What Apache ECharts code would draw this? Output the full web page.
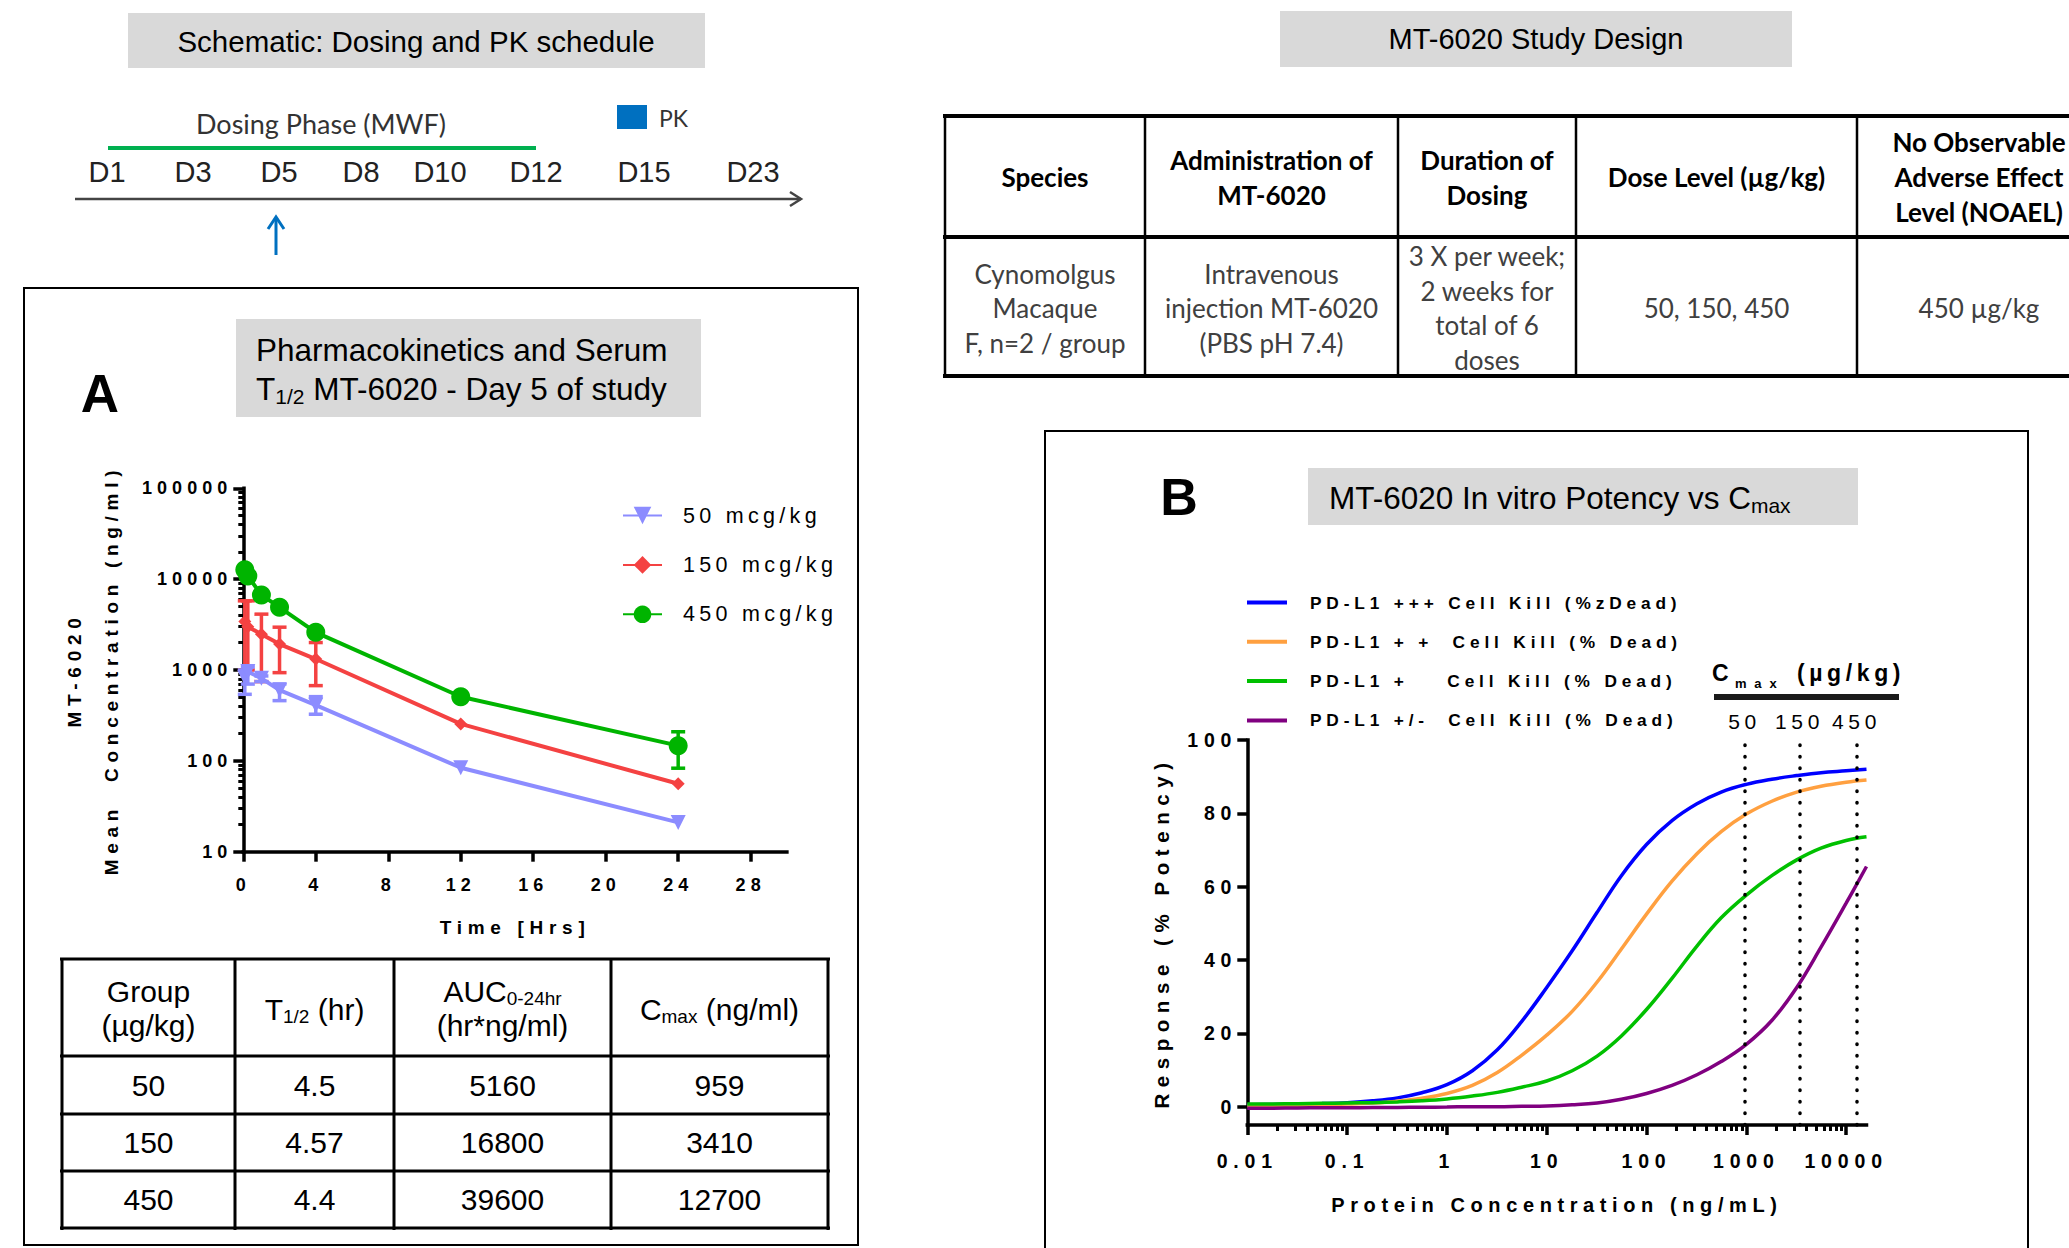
<!DOCTYPE html>
<html>
<head>
<meta charset="utf-8">
<title>MT-6020 PK and in vitro potency</title>
<script src="https://cdn.jsdelivr.net/npm/echarts@6/dist/echarts.min.js"></script>
<style>
  html, body { margin: 0; padding: 0; background: #fff; }
  #main { width: 2069px; height: 1248px; }
</style>
</head>
<body>
<div id="main"></div>
<script>
// ---- panel A: mean serum concentration, day 5 ----
const pkHours = [0.083, 0.25, 1, 2, 4, 12, 24];
const pk50 = [820, 960, 810, 600, 410, 84, 21];
const pk50Low = [540, 700, 745, 460, 326, null, null];
const pk50High = [1000, 1080, 860, 703, 509, null, null];
const pk150 = [3410, 3000, 2470, 1930, 1320, 255, 56];
const pk150Low = [1000, 1000, 745, 935, 673, null, null];
const pk150High = [5770, 5770, 4120, 2960, 2005, null, null];
const pk450 = [12700, 10800, 6700, 4900, 2600, 508, 147];
const pk450Low = [null, null, null, null, null, null, 83];
const pk450High = [null, null, null, null, null, null, 209];
const pkDoseNames = ['50 mcg/kg', '150 mcg/kg', '450 mcg/kg'];
const pkTicksX = [0, 4, 8, 12, 16, 20, 24, 28];
const pkTicksY = [10, 100, 1000, 10000, 100000];

// PK summary table
const tblGroup = ['50', '150', '450'];
const tblHalfLife = ['4.5', '4.57', '4.4'];
const tblAuc = ['5160', '16800', '39600'];
const tblCmax = [959, 3410, 12700];

// ---- panel B: in vitro potency vs Cmax ----
const potConc = [0.01, 0.018, 0.032, 0.056, 0.1, 0.18, 0.32, 0.56, 1, 1.8, 3.2, 5.6, 10, 18, 32, 56,
  100, 180, 320, 560, 1000, 1800, 3200, 5600, 10000, 16000];
const killHigh = [0.5, 0.6, 0.7, 0.85, 1.1, 1.6, 2.4, 3.8, 6.0, 9.8, 15.5, 23.2, 32.5, 42.5, 53, 63,
  71.5, 78, 82.6, 85.8, 87.9, 89.3, 90.3, 91.1, 91.6, 92.0];
const killMid = [0.2, 0.3, 0.4, 0.5, 0.7, 1.0, 1.5, 2.3, 3.6, 5.8, 9.3, 14, 19.5, 26, 34, 43,
  52.5, 61.5, 69, 75, 79.8, 83.3, 85.8, 87.4, 88.5, 89.1];
const killLow = [0.7, 0.75, 0.8, 0.9, 1.0, 1.1, 1.3, 1.6, 2.1, 2.9, 3.9, 5.3, 7.0, 9.8, 13.8, 19.3,
  26.5, 35, 43.8, 51.5, 57.7, 63, 67.3, 70.5, 72.6, 73.6];
const killNeg = [-0.4, -0.4, -0.35, -0.3, -0.3, -0.25, -0.2, -0.15, -0.1, 0, 0, 0.1, 0.2, 0.5, 1.0, 2.0,
  3.6, 5.8, 8.7, 12.3, 17, 23.5, 32.5, 43.5, 55.5, 65.5];
const killNames = [
  'PD-L1 +++ Cell Kill (%zDead)',
  'PD-L1 + +  Cell Kill (% Dead)',
  'PD-L1 +    Cell Kill (% Dead)',
  'PD-L1 +/-  Cell Kill (% Dead)'
];
const doseLabels = ['50', '150', '450'];
const potTicksX = [0.01, 0.1, 1, 10, 100, 1000, 10000];
const potTickLabels = ['0.01', '0.1', '1', '10', '100', '1000', '10000'];
const potTicksY = [0, 20, 40, 60, 80, 100];

const ARIAL = "'Liberation Sans', Arial, Helvetica, sans-serif";
const CALI = "Lato, 'Open Sans', 'Noto Sans', sans-serif";
// GraphPad style text is letter spaced; the "lsNN" family tag is read after rendering
function gp(ls) { return 'ls' + ls + ", 'Liberation Sans', Arial, sans-serif"; }

function minorTicks(fromExp, toExp, limit) {
  const out = [];
  for (let e = fromExp; e < toExp; e++) {
    for (let m = 2; m <= 9; m++) {
      const v = m * Math.pow(10, e);
      if (v <= limit) out.push(v);
    }
  }
  return out;
}

function txt(x, y, text, style) {
  return { type: 'text', x: x, y: y, silent: true,
    style: Object.assign({ text: text, fill: '#000', align: 'center', verticalAlign: 'middle',
      fontFamily: ARIAL, fontSize: 29 }, style) };
}
function seg(x1, y1, x2, y2, stroke, width) {
  return { type: 'line', silent: true, shape: { x1: x1, y1: y1, x2: x2, y2: y2 },
    style: { stroke: stroke, lineWidth: width } };
}
function box(x, y, w, h, style) {
  return { type: 'rect', silent: true, shape: { x: x, y: y, width: w, height: h }, style: style };
}
function subRich(size, subSize, drop) {
  return {
    a: { fontSize: size, fontFamily: ARIAL, fill: '#000', lineHeight: size + 4 },
    s: { fontSize: subSize, fontFamily: ARIAL, fill: '#000', lineHeight: drop, verticalAlign: 'bottom' }
  };
}

const shapes = [];

// schematic of dosing
shapes.push(box(128, 13, 577, 55, { fill: '#d9d9d9' }));
shapes.push(txt(416, 41, 'Schematic: Dosing and PK schedule', { fontSize: 29.5 }));
shapes.push(txt(321, 123, 'Dosing Phase (MWF)', { fontFamily: CALI, fontSize: 27, fill: '#333' }));
shapes.push(seg(108, 148, 536, 148, '#00b050', 4));
const dayNames = ['D1', 'D3', 'D5', 'D8', 'D10', 'D12', 'D15', 'D23'];
const dayX = [107, 193, 279, 361, 440, 536, 644, 753];
dayNames.forEach(function (d, i) { shapes.push(txt(dayX[i], 172, d, { fill: '#222' })); });
shapes.push(seg(75, 199, 801, 199, '#444', 2.5));
shapes.push({ type: 'polyline', silent: true, shape: { points: [[790, 192], [801, 199], [790, 206]] },
  style: { stroke: '#444', lineWidth: 2.5, fill: null } });
shapes.push(box(617, 105, 30, 24, { fill: '#0070c0' }));
shapes.push(txt(659, 118, 'PK', { align: 'left', fontFamily: CALI, fontSize: 23, fill: '#333' }));
shapes.push(seg(276, 255, 276, 218, '#0070c0', 3));
shapes.push({ type: 'polyline', silent: true, shape: { points: [[268, 229], [276, 217], [284, 229]] },
  style: { stroke: '#0070c0', lineWidth: 3, fill: null } });

// study design table
shapes.push(box(1280, 11, 512, 56, { fill: '#d9d9d9' }));
shapes.push(txt(1536, 39, 'MT-6020 Study Design'));
const sdCols = [945, 1145, 1398, 1576, 1857, 2105];
const sdRows = [116, 237, 376];
sdRows.forEach(function (y) { shapes.push(seg(943, y, 2110, y, '#000', 4)); });
sdCols.forEach(function (x) { shapes.push(seg(x, 116, x, 376, '#000', 2.5)); });
const sdHead = ['Species', 'Administration of\nMT-6020', 'Duration of\nDosing', 'Dose Level (µg/kg)',
  'No Observable\nAdverse Effect\nLevel (NOAEL)'];
const sdBody = ['Cynomolgus\nMacaque\nF, n=2 / group', 'Intravenous\ninjection MT-6020\n(PBS pH 7.4)',
  '3 X per week;\n2 weeks for\ntotal of 6\ndoses', '50, 150, 450', '450 µg/kg'];
sdHead.forEach(function (h, i) {
  const cx = i === 4 ? 1979 : (sdCols[i] + sdCols[i + 1]) / 2;
  shapes.push(txt(cx, 177, h, { fontFamily: CALI, fontWeight: 'bold', fontSize: 26, lineHeight: 35 }));
});
sdBody.forEach(function (b, i) {
  const cx = i === 4 ? 1979 : (sdCols[i] + sdCols[i + 1]) / 2;
  shapes.push(txt(cx, 308, b, { fontFamily: CALI, fontSize: 26, lineHeight: 34.5, fill: '#404040' }));
});

// panel A frame, title and table
shapes.push(box(24, 288, 834, 957, { fill: null, stroke: '#000', lineWidth: 2 }));
shapes.push(box(236, 319, 465, 98, { fill: '#d9d9d9' }));
shapes.push(txt(256, 350, 'Pharmacokinetics and Serum', { align: 'left', fontSize: 31.5 }));
shapes.push(txt(256, 389, '{a|T}{s|1/2}{a| MT-6020 - Day 5 of study}', { align: 'left', rich: subRich(31.5, 21, 8) }));
shapes.push(txt(100, 393, 'A', { fontWeight: 'bold', fontSize: 53 }));

const taCols = [62, 235, 394, 611, 828];
const taRows = [959, 1056, 1114, 1171, 1228];
taRows.forEach(function (y) { shapes.push(seg(60, y, 830, y, '#000', 3)); });
taCols.forEach(function (x) { shapes.push(seg(x, 958, x, 1230, '#000', 3)); });
const taMid = taCols.slice(0, 4).map(function (x, i) { return (x + taCols[i + 1]) / 2; });
shapes.push(txt(taMid[0], 1008, 'Group\n(µg/kg)', { fontSize: 30, lineHeight: 34 }));
shapes.push(txt(taMid[1], 1009, '{a|T}{s|1/2}{a| (hr)}', { rich: subRich(30, 19, 8) }));
shapes.push(txt(taMid[2], 1008, '{a|AUC}{s|0-24hr}\n{a|(hr*ng/ml)}', { rich: subRich(30, 19, 8) }));
shapes.push(txt(taMid[3], 1009, '{a|C}{s|max}{a| (ng/ml)}', { rich: subRich(30, 19, 8) }));
tblGroup.forEach(function (g, r) {
  const cy = (taRows[r + 1] + taRows[r + 2]) / 2;
  [g, tblHalfLife[r], tblAuc[r], String(tblCmax[r])].forEach(function (v, c) {
    shapes.push(txt(taMid[c], cy, v, { fontSize: 30 }));
  });
});

// panel B frame and title
shapes.push(box(1045, 431, 983, 840, { fill: null, stroke: '#000', lineWidth: 2 }));
shapes.push(box(1308, 468, 550, 57, { fill: '#d9d9d9' }));
shapes.push(txt(1329, 498, '{a|MT-6020 In vitro Potency vs C}{s|max}', { align: 'left', rich: subRich(31.5, 21, 8) }));
shapes.push(txt(1179, 497, 'B', { fontWeight: 'bold', fontSize: 52 }));
shapes.push(txt(1712, 673, 'C', { align: 'left', fontWeight: 'bold', fontSize: 23, fontFamily: gp(10) }));
shapes.push(txt(1735, 683, 'max', { align: 'left', fontWeight: 'bold', fontSize: 13, fontFamily: gp(60) }));
shapes.push(txt(1797, 673, '(µg/kg)', { align: 'left', fontWeight: 'bold', fontSize: 23, fontFamily: gp(20) }));
shapes.push(box(1714, 694, 185, 6, { fill: '#1a1a1a' }));

const tickFontA = { fontSize: 18, fontWeight: 'bold', fontFamily: gp(28), color: '#000' };
const nameFontA = { fontSize: 19, fontWeight: 'bold', fontFamily: gp(30), color: '#000', lineHeight: 20 };
const tickFontB = { fontSize: 19.5, fontWeight: 'bold', fontFamily: gp(30), color: '#000' };
const nameFontB = { fontSize: 20.5, fontWeight: 'bold', fontFamily: gp(32), color: '#000', lineHeight: 21 };
const axisLineStyle = { color: '#000', width: 3.5, cap: 'square' };

function errorBars(color) {
  return function (params, api) {
    const x = api.value(0);
    const lo = api.coord([x, api.value(1)]);
    const hi = api.coord([x, api.value(2)]);
    const st = { stroke: color, lineWidth: 3.5 };
    return { type: 'group', children: [
      { type: 'line', shape: { x1: lo[0], y1: lo[1], x2: hi[0], y2: hi[1] }, style: st },
      { type: 'line', shape: { x1: lo[0] - 7, y1: lo[1], x2: lo[0] + 7, y2: lo[1] }, style: st },
      { type: 'line', shape: { x1: hi[0] - 7, y1: hi[1], x2: hi[0] + 7, y2: hi[1] }, style: st }
    ] };
  };
}
function errData(low, high) {
  return pkHours.map(function (h, i) { return [h, low[i], high[i]]; })
    .filter(function (d) { return d[1] != null; });
}
function pkSeries(name, values, color, symbol, size, rotate) {
  return { name: name, type: 'line', xAxisIndex: 0, yAxisIndex: 0, z: 3,
    data: pkHours.map(function (h, i) { return [h, values[i]]; }),
    symbol: symbol, symbolSize: size, symbolRotate: rotate,
    itemStyle: { color: color }, lineStyle: { color: color, width: 4 } };
}
function errSeries(low, high, color) {
  return { type: 'custom', xAxisIndex: 0, yAxisIndex: 0, z: 2, renderItem: errorBars(color),
    encode: { x: 0, y: [1, 2] }, data: errData(low, high) };
}
function killSeries(name, values, color, extra) {
  return Object.assign({ name: name, type: 'line', xAxisIndex: 1, yAxisIndex: 2, z: 3,
    data: potConc.map(function (c, i) { return [c, values[i]]; }),
    symbol: 'none', smooth: 0.4,
    itemStyle: { color: color }, lineStyle: { color: color, width: 3.5 } }, extra || {});
}

const chartDom = document.getElementById('main');
const chart = echarts.init(chartDom, null, { renderer: 'svg' });

chart.setOption({
  backgroundColor: '#fff',
  animation: false,
  textStyle: { fontFamily: ARIAL },
  grid: [
    { left: 243.3, top: 488.3, width: 543.6, height: 363.4, outerBoundsMode: 'none' },
    { left: 1247.3, top: 740, width: 619.2, height: 385, outerBoundsMode: 'none' }
  ],
  xAxis: [
    { gridIndex: 0, type: 'value', min: 0, max: 30, position: 'bottom',
      axisLine: { onZero: false, lineStyle: axisLineStyle },
      axisTick: { customValues: pkTicksX, length: 10, lineStyle: { width: 3.5, color: '#000' } },
      axisLabel: Object.assign({ customValues: pkTicksX, margin: 24 }, tickFontA),
      splitLine: { show: false },
      name: 'Time [Hrs]', nameLocation: 'middle', nameGap: 66, nameTextStyle: nameFontA },
    { gridIndex: 1, type: 'log', logBase: 10, min: 0.01, max: 16000, position: 'bottom',
      axisLine: { onZero: false, lineStyle: axisLineStyle },
      axisTick: { customValues: potTicksX, length: 10, lineStyle: { width: 3.5, color: '#000' } },
      axisLabel: Object.assign({ customValues: potTicksX, margin: 26,
        formatter: function (v) {
          const i = potTicksX.findIndex(function (t) { return Math.abs(Math.log10(t / v)) < 0.01; });
          return i < 0 ? '' : potTickLabels[i];
        } }, tickFontB),
      splitLine: { show: false },
      name: 'Protein Concentration (ng/mL)', nameLocation: 'middle', nameGap: 69,
      nameTextStyle: Object.assign({}, nameFontB, { fontSize: 20, fontFamily: gp(28) }) },
    { gridIndex: 1, type: 'log', logBase: 10, min: 0.01, max: 16000, position: 'bottom',
      axisLine: { show: false, onZero: false },
      axisTick: { customValues: minorTicks(-2, 5, 16000), length: 6, lineStyle: { width: 3, color: '#000' } },
      axisLabel: { show: false }, splitLine: { show: false } }
  ],
  yAxis: [
    { gridIndex: 0, type: 'log', logBase: 10, min: 10, max: 100000, position: 'left',
      axisLine: { onZero: false, lineStyle: axisLineStyle },
      axisTick: { customValues: pkTicksY, length: 10, lineStyle: { width: 3.5, color: '#000' } },
      axisLabel: Object.assign({ customValues: pkTicksY, margin: 11,
        formatter: function (v) { return String(Math.round(v)); } }, tickFontA),
      splitLine: { show: false },
      name: 'MT-6020\nMean  Concentration (ng/ml)', nameLocation: 'middle', nameGap: 113, nameRotate: 90,
      nameTextStyle: Object.assign({}, nameFontA, { lineHeight: 37 }) },
    { gridIndex: 0, type: 'log', logBase: 10, min: 10, max: 100000, position: 'left',
      axisLine: { show: false, onZero: false },
      axisTick: { customValues: minorTicks(1, 5, 100000), length: 5, lineStyle: { width: 3, color: '#000' } },
      axisLabel: { show: false }, splitLine: { show: false } },
    { gridIndex: 1, type: 'value', min: -5, max: 100, position: 'left',
      axisLine: { onZero: false, lineStyle: axisLineStyle },
      axisTick: { customValues: potTicksY, length: 10, lineStyle: { width: 3.5, color: '#000' } },
      axisLabel: Object.assign({ customValues: potTicksY, margin: 10 }, tickFontB),
      splitLine: { show: false },
      name: 'Response (% Potency)', nameLocation: 'middle', nameGap: 75, nameRotate: 90, nameTextStyle: nameFontB }
  ],
  legend: [
    { data: pkDoseNames, orient: 'vertical', left: 622, top: 504.5, padding: 0,
      itemWidth: 39, itemHeight: 22, itemGap: 27.4, selectedMode: false,
      textStyle: { fontSize: 21.5, fontFamily: gp(20), color: '#000', lineHeight: 22, padding: [0, 0, 0, 16] } },
    { data: killNames, orient: 'vertical', left: 1247, top: 594, padding: 0, icon: 'rect',
      itemWidth: 40, itemHeight: 4, itemGap: 22.3, selectedMode: false,
      textStyle: { fontSize: 17.3, fontWeight: 'bold', fontFamily: gp(28), color: '#000', lineHeight: 16,
        padding: [0, 0, 0, 18] } }
  ],
  graphic: { elements: shapes },
  series: [
    errSeries(pk150Low, pk150High, '#f44242'),
    errSeries(pk50Low, pk50High, '#8c8cff'),
    errSeries(pk450Low, pk450High, '#00b400'),
    pkSeries(pkDoseNames[1], pk150, '#f44242', 'diamond', 13, 0),
    pkSeries(pkDoseNames[2], pk450, '#00b400', 'circle', 19, 0),
    pkSeries(pkDoseNames[0], pk50, '#8c8cff', 'triangle', 15, 180),
    killSeries(killNames[0], killHigh, '#0000ff', {
      markLine: { silent: true, symbol: 'none',
        lineStyle: { color: '#000', width: 3.5, type: [0.5, 11], cap: 'round' },
        label: { show: true, position: 'end', formatter: '{b}', distance: 8,
          fontSize: 21, fontFamily: gp(22), color: '#000' },
        data: tblCmax.map(function (v, i) { return { xAxis: v, name: doseLabels[i] }; }) } }),
    killSeries(killNames[1], killMid, '#ffa040'),
    killSeries(killNames[2], killLow, '#00c000'),
    killSeries(killNames[3], killNeg, '#800080')
  ]
});

function applyLetterSpacing() {
  chartDom.querySelectorAll('text').forEach(function (t) {
    const m = /\bls(\d+)/.exec(t.getAttribute('style') || '');
    t.setAttributeNS('http://www.w3.org/XML/1998/namespace', 'xml:space', 'preserve');
    t.style.whiteSpace = 'pre';
    if (m) t.style.letterSpacing = (m[1] / 100) + 'em';
  });
}
applyLetterSpacing();
chart.on('finished', applyLetterSpacing);
</script>
</body>
</html>
